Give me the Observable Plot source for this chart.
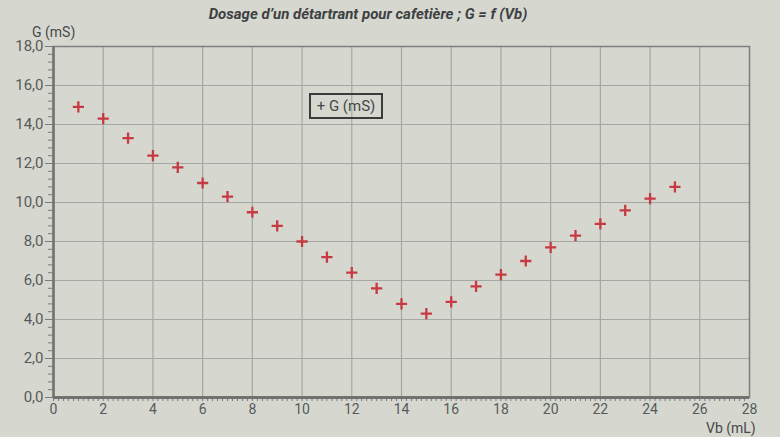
<!DOCTYPE html>
<html>
<head>
<meta charset="utf-8">
<script src="https://cdn.jsdelivr.net/npm/d3@7"></script>
<script src="https://cdn.jsdelivr.net/npm/@observablehq/plot@0.6"></script>
<style>
  html, body { margin: 0; padding: 0; background: #d6d8cf; }
  #wrap { position: relative; width: 780px; height: 437px; overflow: hidden; background: #d6d8cf; font-family: Roboto, "DejaVu Sans", sans-serif; }
  #chart { position: absolute; left: 0; top: 0; }
  .ov { position: absolute; white-space: nowrap; color: #46494a; }
  #title { left: 0; width: 736px; top: 5px; line-height: 18px; text-align: center; font-size: 15px; font-weight: bold; font-style: italic; color: #3e4143; }
  #ylab { left: 32px; top: 24px; font-size: 14px; line-height: 16px; }
  #xlab { left: 706px; top: 421px; font-size: 14px; line-height: 14px; }
  #legend { left: 309px; top: 93px; width: 70px; height: 22px; border: 2.5px solid #3a3b3b; font-size: 15px; line-height: 22px; text-align: center; color: #444748; }
</style>
</head>
<body>
<div id="wrap">
  <div id="chart"></div>
  <div class="ov" id="title">Dosage d’un détartrant pour cafetière ; G = f (Vb)</div>
  <div class="ov" id="ylab">G (mS)</div>
  <div class="ov" id="xlab">Vb (mL)</div>
  <div class="ov" id="legend">+ G (mS)</div>
</div>
<script>
// Data
const vb = [1, 2, 3, 4, 5, 6, 7, 8, 9, 10, 11, 12, 13, 14, 15, 16, 17, 18, 19, 20, 21, 22, 23, 24, 25];
const g  = [14.9, 14.3, 13.3, 12.4, 11.8, 11.0, 10.3, 9.5, 8.8, 8.0, 7.2, 6.4, 5.6, 4.8, 4.3, 4.9, 5.7, 6.3, 7.0, 7.7, 8.3, 8.9, 9.6, 10.2, 10.8];

// Axis ticks
const xTicks = [0, 2, 4, 6, 8, 10, 12, 14, 16, 18, 20, 22, 24, 26, 28];
const yTicks = [0, 2, 4, 6, 8, 10, 12, 14, 16, 18];
const xMinor = d3.range(0, 140).map(i => i / 5);
const yMinor = d3.range(0, 46).map(i => i * 0.4).filter(v => v <= 18);

const data = vb.map((v, i) => ({vb: v, g: g[i]}));
const fmt = d => d.toFixed(1).replace(".", ",");

const chart = Plot.plot({
  width: 780,
  height: 437,
  marginLeft: 53,
  marginRight: 31,
  marginTop: 46,
  marginBottom: 40,
  style: {background: "transparent", fontFamily: "Roboto, 'DejaVu Sans', sans-serif"},
  x: {domain: [0, 28], label: null},
  y: {domain: [0, 18], label: null},
  marks: [
    Plot.gridX(xTicks, {stroke: "#a3a8a5", strokeOpacity: 1, strokeWidth: 1.2}),
    Plot.gridY(yTicks, {stroke: "#a3a8a5", strokeOpacity: 1, strokeWidth: 1.2}),
    Plot.frame({stroke: "#7d807e", strokeWidth: 1.5}),
    Plot.axisX(xMinor, {tickSize: 4, tickFormat: () => "", stroke: "#7a7d7b", strokeWidth: 1}),
    Plot.axisX(xTicks, {tickSize: 0, tickPadding: 7, tickFormat: d => String(d), fontSize: 14, fill: "#575a5b"}),
    Plot.axisY(yMinor, {tickSize: 5, tickFormat: () => "", stroke: "#7a7d7b", strokeWidth: 1}),
    Plot.axisY(yTicks, {tickSize: 8, tickPadding: 2, tickFormat: fmt, fontSize: 15, fill: "#575a5b", stroke: "#7a7d7b"}),
    Plot.ruleX([0], {stroke: "#6f7270", strokeWidth: 2.5}),
    Plot.ruleY([0], {stroke: "#6f7270", strokeWidth: 3}),
    Plot.dot(data, {x: "vb", y: "g", symbol: "plus", r: 3.7, stroke: "#c63a44", strokeWidth: 2.3})
  ]
});
document.getElementById("chart").appendChild(chart);
</script>
</body>
</html>
